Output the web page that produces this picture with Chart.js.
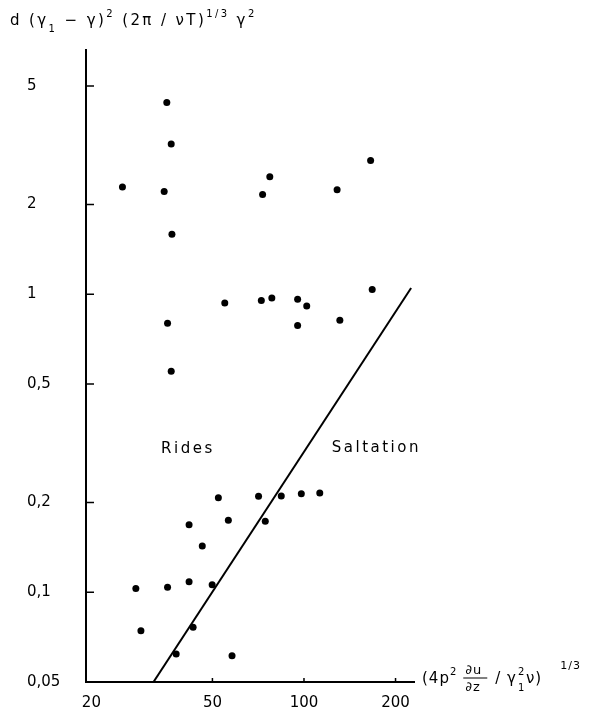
<!DOCTYPE html>
<html lang="en">
<head>
    <meta charset="UTF-8">
    <title>Rides / Saltation regime diagram</title>
    <script src="https://cdn.jsdelivr.net/npm/chart.js"></script>
    <style>
        body { margin: 0; background: #fff; }
        canvas { display: block; }
    </style>
</head>
<body>
    <canvas id="regimeChart" width="598" height="711"></canvas>
    <script>
        const shearParam = [35.4, 36.6, 25.3, 34.7, 36.8, 77.2, 73.1, 128.5, 165.6,
            54.9, 72.4, 78.4, 95.3, 102.1, 95.3, 131.2, 167.6, 35.6, 36.6,
            28.0, 35.6, 41.9, 49.9, 29.1, 43.2, 38.0, 58.0,
            41.9, 46.3, 52.3, 56.4, 70.9, 74.6, 84.2, 98.0, 112.7];
        const densityParam = [4.40, 3.19, 2.29, 2.21, 1.59, 2.48, 2.16, 2.24, 2.81,
            0.935, 0.953, 0.972, 0.962, 0.914, 0.785, 0.818, 1.037, 0.799, 0.552,
            0.103, 0.104, 0.1085, 0.106, 0.0743, 0.0763, 0.0621, 0.0612,
            0.1685, 0.143, 0.2076, 0.1743, 0.2098, 0.173, 0.2103, 0.214, 0.2153];

        // boundary between the two regimes
        const boundaryX = [32, 225];
        const boundaryY = [0.05, 1.05];

        // axes
        const xTicks = [20, 50, 100, 200];
        const yTicks = [0.05, 0.1, 0.2, 0.5, 1, 2, 5];
        const xRange = [19.2, 230];
        const yRange = [0.05, 6.6];

        const regionLabels = ['Rides', 'Saltation'];
        const regionX = [33.9, 123.4];
        const regionY = [0.302, 0.304];

        const FONT = 'DejaVu Sans';

        // draws pieces of text one after another, with sub/superscripts
        function drawRuns(ctx, x, y, runs) {
            runs.forEach(r => {
                ctx.font = (r[2] || 15) + 'px "' + FONT + '"';
                ctx.fillText(r[0], x, y + (r[1] || 0));
                x += ctx.measureText(r[0]).width;
            });
            return x;
        }

        const annotations = {
            id: 'annotations',
            afterDraw(chart) {
                const { ctx, chartArea: a, scales: { x, y } } = chart;
                ctx.save();
                ctx.strokeStyle = '#000';
                ctx.fillStyle = '#000';
                ctx.lineWidth = 1.5;

                // inward tick marks
                ctx.beginPath();
                yTicks.filter(v => v > yRange[0]).forEach(v => {
                    const py = y.getPixelForValue(v);
                    ctx.moveTo(a.left, py);
                    ctx.lineTo(a.left + 8, py);
                });
                xTicks.filter(v => v > xTicks[0]).forEach(v => {
                    const px = x.getPixelForValue(v);
                    ctx.moveTo(px, a.bottom);
                    ctx.lineTo(px, a.bottom - 4);
                });
                ctx.stroke();

                // regime labels
                ctx.textBaseline = 'middle';
                ctx.letterSpacing = '2.5px';
                ctx.font = '15px "' + FONT + '"';
                regionLabels.forEach((t, i) => {
                    ctx.fillText(t, x.getPixelForValue(regionX[i]), y.getPixelForValue(regionY[i]));
                });

                // y axis title
                ctx.textBaseline = 'alphabetic';
                ctx.letterSpacing = '2.4px';
                drawRuns(ctx, 10, 25, [
                    ['d (γ'], ['1', 7, 10], [' − γ)'], ['2', -8, 10],
                    [' (2π / νT)'], ['1/3', -8, 10], [' γ'], ['2', -8, 10]
                ]);

                // x axis title
                ctx.letterSpacing = '1px';
                const bx = a.right + 8;
                const by = a.bottom + 1;
                let cx = drawRuns(ctx, bx, by, [['(4p'], ['2', -8, 10]]);
                cx += 6;
                ctx.font = '13px "' + FONT + '"';
                ctx.fillText('∂u', cx + 2, by - 9);
                ctx.fillText('∂z', cx + 2, by + 8);
                ctx.beginPath();
                ctx.moveTo(cx, by - 5);
                ctx.lineTo(cx + 24, by - 5);
                ctx.lineWidth = 1;
                ctx.stroke();
                cx += 32;
                cx = drawRuns(ctx, cx, by, [['/ γ']]);
                ctx.font = '10px "' + FONT + '"';
                ctx.fillText('2', cx + 1, by - 8);
                ctx.fillText('1', cx + 1, by + 8);
                cx += 9;
                cx = drawRuns(ctx, cx, by, [['ν)']]);
                drawRuns(ctx, cx + 18, by - 14, [['1/3', 0, 11]]);
                ctx.restore();
            }
        };

        const points = shearParam.map((v, i) => ({ x: v, y: densityParam[i] }));
        const boundary = boundaryX.map((v, i) => ({ x: v, y: boundaryY[i] }));

        const config = {
            type: 'scatter',
            data: {
                datasets: [{
                    data: points,
                    pointRadius: 3.5,
                    pointBackgroundColor: '#000',
                    pointBorderWidth: 0
                }, {
                    data: boundary,
                    showLine: true,
                    borderColor: '#000',
                    borderWidth: 2,
                    pointRadius: 0
                }]
            },
            options: {
                responsive: false,
                animation: false,
                layout: { padding: { left: 27, top: 50, right: 184, bottom: 0 } },
                plugins: {
                    legend: { display: false },
                    tooltip: { enabled: false }
                },
                scales: {
                    x: {
                        type: 'logarithmic',
                        min: xRange[0],
                        max: xRange[1],
                        afterBuildTicks: s => { s.ticks = xTicks.map(v => ({ value: v })); },
                        afterFit: s => { s.height = 29; },
                        ticks: {
                            callback: v => String(v),
                            padding: 12,
                            color: '#000',
                            maxRotation: 0,
                            autoSkip: false,
                            font: { family: FONT, size: 15 }
                        },
                        grid: { display: false, drawTicks: false },
                        border: { display: true, color: '#000', width: 2 }
                    },
                    y: {
                        type: 'logarithmic',
                        min: yRange[0],
                        max: yRange[1],
                        afterBuildTicks: s => { s.ticks = yTicks.map(v => ({ value: v })); },
                        afterFit: s => { s.width = 59; },
                        ticks: {
                            callback: v => String(v).replace('.', ','),
                            crossAlign: 'far',
                            padding: 0,
                            color: '#000',
                            autoSkip: false,
                            font: { family: FONT, size: 15 }
                        },
                        grid: { display: false, drawTicks: false },
                        border: { display: true, color: '#000', width: 2 }
                    }
                }
            },
            plugins: [annotations]
        };

        new Chart(document.getElementById('regimeChart').getContext('2d'), config);
    </script>
</body>
</html>
